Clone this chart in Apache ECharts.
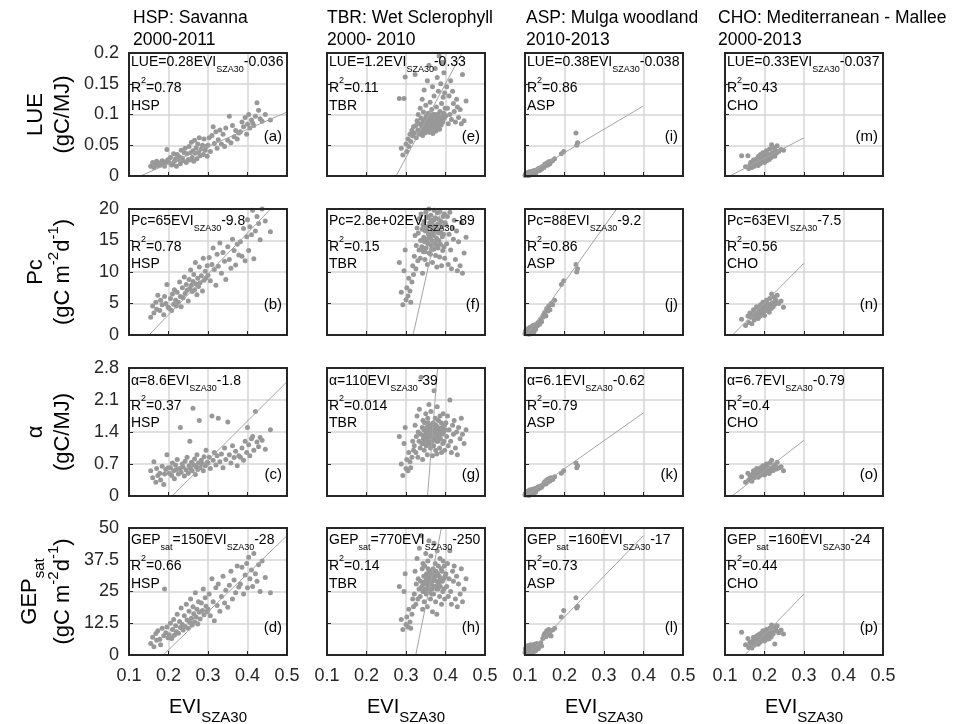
<!DOCTYPE html>
<html>
<head>
<meta charset="utf-8">
<script src="https://cdn.jsdelivr.net/npm/echarts@6/dist/echarts.min.js"></script>
<style>
  html, body { margin: 0; padding: 0; background: #fff; }
  #chart { width: 955px; height: 724px; }
</style>
</head>
<body>
<div id="chart"></div>
<script>
// ---- site info ----
const siteCodes = ['HSP', 'TBR', 'ASP', 'CHO'];
const siteTitles = ['HSP: Savanna', 'TBR: Wet Sclerophyll', 'ASP: Mulga woodland', 'CHO: Mediterranean - Mallee'];
const sitePeriods = ['2000-2011', '2000- 2010', '2010-2013', '2000-2013'];
const panelLetters = ['a','b','c','d','e','f','g','h','i','j','k','l','m','n','o','p'];

// ---- axes ----
const xMin = 0.1, xMax = 0.5, xStep = 0.1;
const yMax = [0.2, 20, 2.8, 50];
const yStep = [0.05, 5, 0.7, 12.5];

// ---- fit equations as printed (rows: LUE, Pc, alpha, GEPsat; cols: HSP, TBR, ASP, CHO) ----
const eqVars = ['LUE', 'Pc', 'α', 'GEP'];
const eqSlope = [['0.28','1.2','0.38','0.33'], ['65','2.8e+02','88','63'], ['8.6','110','6.1','6.7'], ['150','770','160','160']];
const eqIntercept = [['-0.036','-0.33','-0.038','-0.037'], ['-9.8','-89','-9.2','-7.5'], ['-1.8','-39','-0.62','-0.79'], ['-28','-250','-17','-24']];
const r2Values = [['0.78','0.11','0.86','0.43'], ['0.78','0.15','0.86','0.56'], ['0.37','0.014','0.79','0.4'], ['0.66','0.14','0.73','0.44']];

// fit line end points (x per site, y per row/site)
const fitX = [[0.1, 0.5], [0.1, 0.5], [0.1, 0.4], [0.1, 0.3]];
const lueFitY = [[-0.008, 0.104], [-0.21, 0.27], [0.0, 0.114], [-0.004, 0.062]];
const pcFitY = [[-3.3, 22.7], [-61, 51], [-0.4, 26], [-1.2, 11.4]];
const alphaFitY = [[-0.94, 2.5], [-28, 16], [-0.01, 1.82], [-0.12, 1.22]];
const gepFitY = [[-13, 47], [-173, 135], [-1, 47], [-8, 24]];

// ---- HSP ----
const hspEvi = [0.155,0.16,0.163,0.168,0.17,0.173,0.178,0.18,0.184,0.188,0.19,0.193,0.196,0.199,
  0.202,0.205,0.208,0.21,0.213,0.215,0.218,0.22,0.222,0.225,0.228,0.23,0.232,0.235,0.237,0.24,0.242,0.245,0.247,0.25,
  0.252,0.254,0.256,0.258,0.26,0.262,0.264,0.266,0.268,0.27,0.272,0.274,0.276,0.278,0.28,0.283,0.286,0.288,0.29,0.293,0.295,0.298,
  0.3,0.303,0.306,0.31,0.313,0.316,0.32,0.323,0.326,0.33,0.334,0.338,0.342,0.345,0.35,0.354,0.358,0.362,0.366,0.37,0.374,0.378,
  0.382,0.386,0.39,0.394,0.398,0.4,0.403,0.406,0.41,0.413,0.416,0.42,0.424,0.428,0.432,0.437,0.445,0.458];
const hspLue = [0.016,0.022,0.014,0.019,0.024,0.017,0.021,0.018,0.025,0.02,0.016,0.023,0.043,0.027,
  0.022,0.03,0.018,0.019,0.036,0.024,0.028,0.016,0.035,0.027,0.031,0.02,0.042,0.029,0.025,0.038,0.045,0.022,0.036,0.027,
  0.048,0.026,0.038,0.055,0.03,0.041,0.024,0.058,0.037,0.046,0.028,0.052,0.039,0.062,0.033,0.044,0.05,0.035,0.06,0.042,0.048,0.032,
  0.05,0.062,0.04,0.066,0.08,0.053,0.072,0.045,0.059,0.075,0.052,0.068,0.048,0.078,0.058,0.097,0.054,0.082,0.064,0.074,0.06,0.07,
  0.072,0.088,0.08,0.095,0.068,0.084,0.1,0.078,0.091,0.086,0.082,0.097,0.119,0.107,0.093,0.089,0.1,0.091];
const hspPc = [2.8,4.6,3.5,5.2,4.1,6.3,3.9,5.5,4.8,3.2,6.1,5.0,8.0,4.4,
  4.2,5.8,3.9,6.5,4.9,7.2,5.5,4.6,6.8,5.2,8.4,6.1,4.5,7.5,5.9,9.2,6.6,8.0,7.1,5.4,
  8.8,7.4,10.3,7.9,6.9,8.5,9.6,7.2,11.5,8.1,6.4,9.0,7.7,10.8,8.3,9.4,7.0,12.2,8.7,10.1,9.1,11.0,
  9.5,12.3,8.6,11.2,13.8,10.4,7.9,12.8,10.9,14.6,9.8,13.1,11.7,8.8,14.0,12.0,10.6,15.2,13.4,11.1,14.4,12.7,
  14.8,12.5,16.9,11.8,15.6,18.3,13.4,17.2,15.9,19.8,12.1,16.5,18.8,17.7,15.1,20.0,18.1,16.4];
const hspAlpha = [0.55,0.4,0.75,0.3,0.6,0.45,0.5,0.35,0.65,0.25,0.48,0.58,0.9,0.62,
  0.5,0.62,0.45,0.72,0.55,0.38,0.68,0.58,0.8,0.48,0.6,1.5,0.52,0.7,0.63,0.44,0.76,0.57,0.85,0.5,
  0.66,1.2,0.6,0.74,0.55,1.92,0.68,0.81,0.47,0.64,0.9,0.58,0.72,1.65,0.62,0.78,0.7,0.55,0.86,0.66,1.0,0.74,
  0.72,0.85,0.6,1.75,0.78,0.95,0.68,0.88,1.7,0.75,0.92,0.62,1.05,0.8,1.62,0.9,0.72,1.1,0.84,0.98,0.66,0.88,
  0.85,1.05,0.78,1.2,0.95,1.5,1.12,0.88,1.25,1.3,1.0,1.85,1.18,1.08,1.28,1.22,1.02,1.45];
const hspGep = [4.5,7.0,3.2,8.5,5.8,9.5,6.2,4.0,10.5,7.6,26.0,8.8,11.0,6.8,
  8.0,12.5,6.5,10.0,14.0,7.8,11.5,9.2,16.0,8.6,13.2,10.8,18.5,12.0,9.8,15.5,11.2,20.0,13.8,10.5,
  17.2,12.8,22.0,14.5,11.8,19.0,16.2,13.0,24.5,15.0,18.0,12.2,21.0,16.8,14.2,20.5,17.5,26.0,15.8,22.5,19.2,17.0,
  18.0,24.0,15.5,30.0,21.0,13.5,26.5,19.5,28.0,17.2,23.0,31.0,20.5,25.5,18.8,27.5,33.0,22.0,29.5,24.5,35.0,26.8,
  28.0,34.5,24.0,31.5,36.0,26.5,38.5,30.0,33.5,27.0,40.0,32.0,29.0,35.5,25.0,37.0,30.5,24.5];

// ---- TBR ----
const tbrEvi = [0.283,0.288,0.292,0.295,0.298,0.3,0.302,0.305,0.307,0.31,0.312,0.315,0.317,0.319,
  0.321,0.323,0.325,0.326,0.328,0.33,0.331,0.333,0.334,0.336,0.337,0.338,0.34,0.341,0.342,0.343,0.344,0.345,0.346,0.347,
  0.348,0.349,0.35,0.351,0.352,0.353,0.354,0.355,0.356,0.357,0.358,0.359,0.36,0.361,0.362,0.363,0.364,0.365,0.366,0.367,
  0.368,0.369,0.37,0.371,0.372,0.373,0.374,0.375,0.376,0.377,0.378,0.379,0.38,0.381,0.382,0.383,0.384,0.385,0.386,0.387,
  0.388,0.389,0.39,0.391,0.392,0.393,0.394,0.395,0.396,0.397,0.398,0.399,
  0.345,0.35,0.355,0.36,0.362,0.365,0.368,0.37,0.372,0.375,0.358,0.352,0.348,0.363,0.366,0.371,0.378,0.356,0.361,0.369,0.374,0.38,0.343,0.384,
  0.401,0.403,0.405,0.407,0.409,0.411,0.413,0.415,0.418,0.42,0.422,0.425,0.428,0.43,0.433,0.437,0.44,0.443,0.447,0.452];
const tbrLue = [0.126,0.045,0.034,0.126,0.161,0.052,0.04,0.06,0.048,0.068,0.056,0.074,0.065,0.08,
  0.07,0.165,0.082,0.062,0.09,0.075,0.1,0.068,0.085,0.11,0.072,0.094,0.08,0.125,0.066,0.088,0.104,0.077,0.14,0.092,
  0.07,0.083,0.115,0.097,0.074,0.088,0.155,0.079,0.102,0.086,0.18,0.071,0.093,0.12,0.082,0.099,0.076,0.108,0.089,0.145,
  0.069,0.095,0.084,0.13,0.078,0.1,0.175,0.087,0.073,0.112,0.091,0.16,0.081,0.098,0.138,0.086,0.195,0.076,0.105,0.092,
  0.15,0.083,0.118,0.097,0.185,0.088,0.128,0.102,0.168,0.094,0.135,0.11,
  0.083,0.092,0.078,0.096,0.087,0.075,0.1,0.081,0.09,0.094,0.072,0.088,0.079,0.098,0.085,0.093,0.077,0.089,0.082,0.095,0.086,0.1,0.074,0.091,
  0.098,0.145,0.11,0.085,0.13,0.1,0.155,0.092,0.138,0.118,0.105,0.088,0.125,0.112,0.095,0.108,0.085,0.165,0.09,0.122];
const tbrPc = [11.5,6.8,4.8,10.2,13.5,5.6,7.5,6.2,9.0,7.0,5.2,8.4,11.0,9.6,
  12.5,15.8,10.5,14.2,17.0,11.8,16.2,13.5,18.5,12.2,15.0,19.2,14.0,16.8,9.8,17.5,13.2,15.5,18.0,14.8,
  12.0,16.5,19.5,13.8,17.2,15.2,11.2,18.8,14.5,16.0,20.0,13.0,17.8,15.6,12.8,19.0,14.2,16.6,18.2,11.5,
  15.8,17.4,13.6,19.8,16.2,14.6,18.6,12.6,17.0,15.4,10.8,19.4,16.8,13.8,18.4,15.0,17.6,12.4,19.6,14.4,
  16.4,18.0,11.0,17.2,15.6,13.4,18.8,16.0,14.0,19.2,12.2,17.8,
  15.2,16.8,14.6,17.4,15.8,13.6,16.2,18.2,14.8,17.0,15.4,16.6,13.2,17.8,15.0,16.4,14.2,18.6,15.6,16.0,14.4,17.6,13.8,16.2,
  17.5,14.5,18.8,11.2,16.0,19.5,13.5,10.5,17.0,15.2,18.2,12.0,16.5,10.2,14.8,11.0,17.8,9.8,13.0,15.5];
const tbrAlpha = [1.3,0.7,0.45,1.15,1.5,0.6,0.8,0.55,0.95,0.75,0.62,0.85,1.2,1.0,
  1.1,1.55,0.95,1.3,1.75,0.85,1.4,1.2,1.9,1.05,1.35,2.6,1.15,1.5,0.8,1.65,1.25,1.45,1.0,1.6,
  1.2,1.35,1.8,1.1,1.5,1.3,0.9,1.7,1.25,1.45,2.0,1.15,1.55,1.35,1.05,1.85,1.3,1.5,1.2,0.88,
  1.4,1.6,1.1,2.3,1.45,1.25,1.7,1.0,1.55,1.35,0.92,1.95,1.5,1.2,1.65,1.3,1.45,1.05,1.75,1.25,
  1.4,1.6,0.95,1.5,1.35,1.15,1.8,1.4,1.2,1.55,1.0,1.45,
  1.3,1.45,1.2,1.5,1.35,1.1,1.4,1.55,1.25,1.45,1.3,1.4,1.15,1.5,1.35,1.25,1.2,1.6,1.3,1.4,1.25,1.5,1.15,1.35,
  1.6,1.3,1.75,1.1,1.45,2.1,1.2,0.95,1.55,1.35,1.65,1.05,1.4,0.9,1.5,1.25,1.7,1.35,1.15,1.45];
const tbrGep = [27,14,10,25,32,12,15,11,18,13,10.5,16,22,19,
  24,33,20,28,38,22,30,26,42,23,29,47,27,34,18,36,25,31,21,35,
  26,29,40,24,32,28,19,37,27,31,45,25,33,30,22,39,28,32,26,17,
  30,34,24,44,31,27,36,21,33,29,16,41,32,26,35,28,31,23,38,27,
  30,34,20,33,29,25,37,30,26,35,22,31,
  28,31,26,32,29,24,30,33,27,31,28,30,25,32,29,27,26,34,28,30,27,32,25,29,
  32,27,36,23,30,41,25,20,33,29,35,22,31,19,28,24,34,21,26,30];

// ---- ASP ----
const aspEvi = [0.1,0.101,0.102,0.103,0.104,0.105,0.105,0.106,0.107,0.108,0.108,0.109,0.11,0.11,0.111,0.112,0.112,0.113,0.114,0.115,
  0.115,0.116,0.117,0.118,0.119,0.12,0.121,0.122,0.123,0.124,0.125,0.126,0.127,0.128,0.13,0.132,0.134,0.137,0.14,0.142,
  0.145,0.148,0.15,0.153,0.155,0.158,0.16,0.163,0.166,0.17,0.175,
  0.192,0.198,0.229,0.231,0.233];
const aspLue = [0.001,0.003,0.002,0.004,0.002,0.005,0.001,0.003,0.004,0.002,0.006,0.003,0.005,0.001,0.004,0.007,0.003,0.005,0.004,0.006,
  0.002,0.005,0.007,0.004,0.006,0.008,0.005,0.007,0.003,0.009,0.006,0.008,0.005,0.007,0.01,0.008,0.012,0.009,0.014,0.011,
  0.016,0.014,0.019,0.017,0.021,0.018,0.023,0.02,0.024,0.025,0.028,
  0.036,0.04,0.07,0.05,0.054];
const aspPc = [0.2,0.5,0.3,0.8,0.4,0.9,0.2,0.6,0.7,0.3,1.0,0.5,0.8,0.1,0.6,1.2,0.4,0.9,0.7,1.1,
  0.3,0.8,1.3,0.6,1.0,1.5,0.8,1.2,0.5,1.6,1.0,1.4,0.9,1.3,1.8,1.5,2.0,1.7,2.4,2.1,
  2.8,3.3,3.6,3.0,4.2,3.8,4.6,4.0,5.0,4.8,5.5,
  8.0,8.6,11.2,10.0,10.5];
const aspAlpha = [0.02,0.05,0.03,0.08,0.04,0.1,0.02,0.06,0.07,0.03,0.11,0.05,0.09,0.01,0.06,0.13,0.04,0.1,0.07,0.12,
  0.03,0.09,0.14,0.06,0.11,0.15,0.08,0.13,0.05,0.16,0.1,0.14,0.09,0.13,0.18,0.15,0.2,0.17,0.22,0.19,
  0.24,0.28,0.31,0.26,0.35,0.3,0.38,0.33,0.4,0.36,0.42,
  0.5,0.55,0.72,0.62,0.66];
const aspGep = [1.0,2.5,1.5,3.0,0.8,2.0,3.5,1.2,2.8,1.8,3.2,0.6,2.2,3.8,1.4,2.6,0.9,3.4,1.9,2.4,
  4.0,1.1,2.9,1.7,3.6,2.3,1.3,3.1,2.0,4.2,2.7,1.6,3.3,2.1,4.5,3.0,2.5,3.8,4.8,3.5,
  6.5,7.8,8.5,7.2,9.5,8.0,10.0,8.8,7.5,9.8,10.5,
  15.0,17.5,22.5,18.5,19.2];

// ---- CHO ----
const choEvi = [0.142,0.152,0.158,0.16,0.163,0.165,0.168,0.17,0.172,0.174,0.176,0.178,0.18,0.182,0.184,0.185,0.187,0.189,0.19,0.192,
  0.193,0.195,0.196,0.198,0.2,0.201,0.203,0.205,0.206,0.208,0.21,0.212,0.213,0.215,0.217,0.218,0.22,0.222,0.224,0.226,
  0.228,0.23,0.232,0.236,0.242,0.248];
const choLue = [0.033,0.015,0.033,0.012,0.018,0.022,0.014,0.02,0.026,0.016,0.024,0.019,0.028,0.021,0.017,0.032,0.025,0.02,0.035,0.027,
  0.023,0.03,0.038,0.026,0.022,0.034,0.029,0.041,0.025,0.036,0.031,0.027,0.044,0.033,0.03,0.051,0.038,0.035,0.046,0.032,
  0.042,0.037,0.049,0.04,0.043,0.042];
const choPc = [2.5,1.5,3.0,2.0,3.5,2.8,1.8,3.2,4.0,2.4,3.6,2.9,4.5,3.3,2.6,4.2,3.8,3.0,4.8,4.0,
  3.4,4.4,5.2,3.7,3.1,4.6,4.1,5.5,3.9,5.0,4.3,3.6,5.8,4.7,4.2,6.5,5.1,4.5,6.0,4.9,
  5.6,5.3,6.3,5.0,5.4,4.4];
const choAlpha = [0.42,0.3,0.5,0.35,0.45,0.38,0.32,0.48,0.55,0.4,0.52,0.44,0.6,0.47,0.41,0.58,0.5,0.45,0.62,0.53,
  0.48,0.57,0.66,0.5,0.46,0.6,0.54,0.7,0.52,0.63,0.57,0.49,0.72,0.58,0.55,0.78,0.62,0.56,0.68,0.6,
  0.65,0.59,0.74,0.61,0.64,0.55];
const choGep = [9.0,4.0,6.5,3.0,5.0,4.5,2.8,5.5,7.0,3.8,6.0,4.8,7.5,5.2,4.2,8.0,6.2,5.0,8.5,6.8,
  5.8,7.2,9.5,6.5,5.5,8.2,7.0,10.0,6.2,9.0,7.6,6.4,10.5,8.0,7.2,11.8,9.2,8.4,11.0,4.3,
  10.2,9.5,11.5,8.8,9.8,8.3];

// ---- layout ----
const fontFam = "'Liberation Sans', Arial, Helvetica, sans-serif";
const colLeft = [129, 327, 525, 725];
const rowTop = [53, 209, 368, 528];
const rowH = [123, 126, 128, 127];
const panelW = 158;
const titleX = [133, 327, 526, 718];
const eqOff = [9, 12, 13, 12];
const r2Off = [35, 38, 38, 38];
const siteOff = [53, 55, 55, 56];
const letterOff = [84, 96, 107, 100];
const yName1X = [36, 36, 36, 30];
const yName2X = [63, 63, 63, 63];

const siteEvi = [hspEvi, tbrEvi, aspEvi, choEvi];
const siteY = [
  [hspLue, hspPc, hspAlpha, hspGep],
  [tbrLue, tbrPc, tbrAlpha, tbrGep],
  [aspLue, aspPc, aspAlpha, aspGep],
  [choLue, choPc, choAlpha, choGep]
];
const fitYRows = [lueFitY, pcFitY, alphaFitY, gepFitY];

// main text centred in its line; sub sits on the line bottom, sup on the line top
const annoRich = {
  m: { fontSize: 14, lineHeight: 24, fontFamily: fontFam, fill: '#000' },
  sb: { fontSize: 9, lineHeight: 10, verticalAlign: 'bottom', fontFamily: fontFam, fill: '#000' },
  sp: { fontSize: 9, lineHeight: 10, verticalAlign: 'top', fontFamily: fontFam, fill: '#000' }
};
const yNameRich = {
  a: { fontSize: 22, lineHeight: 34, fontFamily: fontFam, fill: '#000' },
  s: { fontSize: 15, lineHeight: 10, verticalAlign: 'bottom', fontFamily: fontFam, fill: '#000' },
  p: { fontSize: 15, lineHeight: 10, verticalAlign: 'top', fontFamily: fontFam, fill: '#000' }
};
const xNameRich = {
  e: { fontSize: 20, lineHeight: 37, fontFamily: fontFam, fill: '#000' },
  x: { fontSize: 15, lineHeight: 10, verticalAlign: 'bottom', fontFamily: fontFam, fill: '#000' }
};

function txt(x, y, text, rich, align, vAlign, extra) {
  return Object.assign({
    type: 'text', x: x, y: y, z: 100, silent: true,
    style: {
      text: text, rich: rich, fontFamily: fontFam, fontSize: 14, fill: '#000',
      align: align, textAlign: align, verticalAlign: vAlign, textVerticalAlign: vAlign
    }
  }, extra || {});
}

const grids = [], xAxes = [], yAxes = [], series = [], graphics = [];

for (let c = 0; c < 4; c++) {
  for (let r = 0; r < 4; r++) {
    const i = c * 4 + r;
    grids.push({ left: colLeft[c], top: rowTop[r], width: panelW, height: rowH[r], outerBoundsMode: 'none' });
    xAxes.push({
      gridIndex: i, type: 'value', min: xMin, max: xMax, interval: xStep,
      axisLine: { show: false },
      axisTick: { show: true, inside: true, length: 4, lineStyle: { color: '#262626', width: 1 } },
      axisLabel: {
        show: r === 3, margin: 12, fontSize: 18, color: '#262626', fontFamily: fontFam,
        showMinLabel: true, showMaxLabel: true,
        formatter: v => v.toFixed(1)
      },
      splitLine: { show: true, showMinLine: false, showMaxLine: false, lineStyle: { color: '#d6d6d6', width: 1.5 } }
    });
    yAxes.push({
      gridIndex: i, type: 'value', min: 0, max: yMax[r], interval: yStep[r],
      axisLine: { show: false },
      axisTick: { show: true, inside: true, length: 4, lineStyle: { color: '#262626', width: 1 } },
      axisLabel: {
        show: c === 0, margin: 10, fontSize: 18, color: '#262626', fontFamily: fontFam,
        showMinLabel: true, showMaxLabel: true,
        formatter: v => String(+v.toFixed(3))
      },
      splitLine: { show: true, showMinLine: false, showMaxLine: false, lineStyle: { color: '#d6d6d6', width: 1.5 } }
    });

    const xs = siteEvi[c], ys = siteY[c][r];
    series.push({
      type: 'scatter', xAxisIndex: i, yAxisIndex: i, silent: true, z: 2,
      symbolSize: 5, itemStyle: { color: '#989898', opacity: 1 },
      data: xs.map((x, k) => [x, ys[k]])
    });
    series.push({
      type: 'line', xAxisIndex: i, yAxisIndex: i, silent: true, z: 3, clip: true,
      symbol: 'none', lineStyle: { color: '#a4a4a4', width: 1 },
      data: [[fitX[c][0], fitYRows[r][c][0]], [fitX[c][1], fitYRows[r][c][1]]]
    });

    // frame
    graphics.push({
      type: 'rect', z: 90, silent: true,
      shape: { x: colLeft[c], y: rowTop[r], width: panelW, height: rowH[r] },
      style: { fill: 'none', stroke: '#262626', lineWidth: 2 }
    });

    // annotations (block top = main text centre - 12)
    const pre = r === 3 ? '{m|GEP}{sb|sat}' : '{m|' + eqVars[r] + '}';
    const eq = pre + '{m|=' + eqSlope[r][c] + 'EVI}{sb|SZA30}{m|' + eqIntercept[r][c] + '}';
    graphics.push(txt(colLeft[c] + 2, rowTop[r] + eqOff[r] - 12, eq, annoRich, 'left', 'top'));
    graphics.push(txt(colLeft[c] + 2, rowTop[r] + r2Off[r] - 12, '{m|R}{sp|2}{m|=' + r2Values[r][c] + '}', annoRich, 'left', 'top'));
    graphics.push(txt(colLeft[c] + 2, rowTop[r] + siteOff[r] - 12, '{m|' + siteCodes[c] + '}', annoRich, 'left', 'top'));
    const lt = txt(colLeft[c] + panelW - 5, rowTop[r] + letterOff[r], '(' + panelLetters[i] + ')', null, 'right', 'middle');
    lt.style.fontSize = 15;
    graphics.push(lt);
  }

  // column titles
  const t = txt(titleX[c], 7, siteTitles[c] + '\n' + sitePeriods[c], null, 'left', 'top');
  t.style.fontSize = 17.5;
  t.style.lineHeight = 22;
  graphics.push(t);

  // x axis name (EVI centre at y = 707)
  graphics.push(txt(colLeft[c] + panelW / 2, 707 - 18.5, '{e|EVI}{x|SZA30}', xNameRich, 'center', 'top'));
}

// y axis names (rotated, main glyph centre = x + 17)
const yName1 = ['{a|LUE}', '{a|Pc}', '{a|α}', '{a|GEP}{s|sat}'];
const yName2 = ['{a|(gC/MJ)}', '{a|(gC m}{p|-2}{a|d}{p|-1}{a|)}', '{a|(gC/MJ)}', '{a|(gC m}{p|-2}{a|d}{p|-1}{a|)}'];
for (let r = 0; r < 4; r++) {
  const cy = rowTop[r] + rowH[r] / 2;
  graphics.push(txt(yName1X[r] - 17, cy, yName1[r], yNameRich, 'center', 'top', { rotation: Math.PI / 2 }));
  graphics.push(txt(yName2X[r] - 17, cy, yName2[r], yNameRich, 'center', 'top', { rotation: Math.PI / 2 }));
}

const chart = echarts.init(document.getElementById('chart'), null, { renderer: 'canvas' });
chart.setOption({
  backgroundColor: '#ffffff',
  animation: false,
  textStyle: { fontFamily: fontFam },
  grid: grids,
  xAxis: xAxes,
  yAxis: yAxes,
  series: series,
  graphic: { elements: graphics }
});
</script>
</body>
</html>
